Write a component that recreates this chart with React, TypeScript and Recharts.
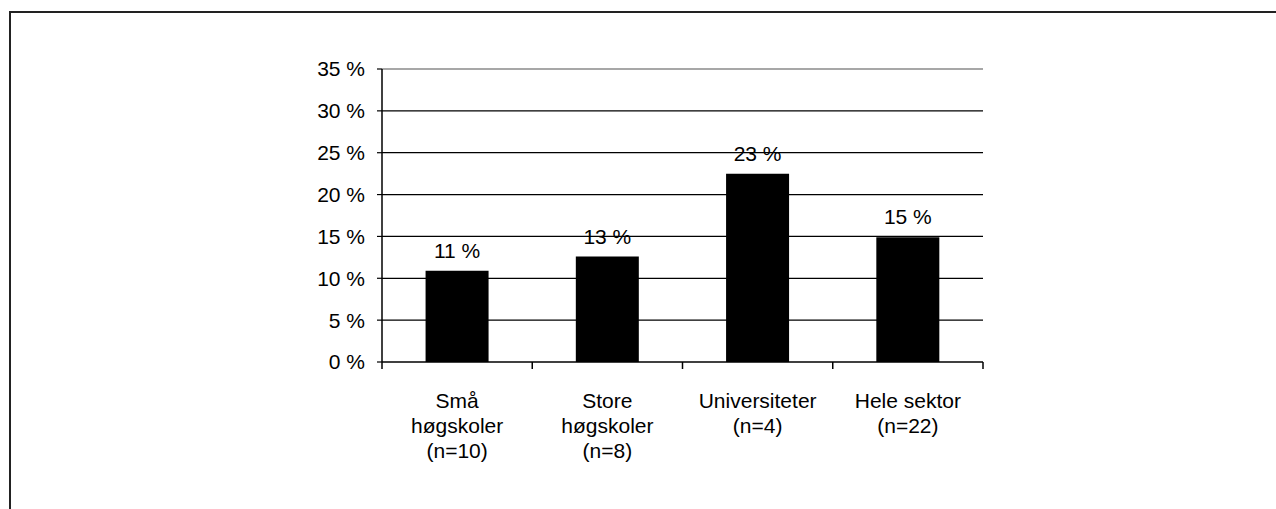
import React from "react";
import { BarChart, Bar, XAxis, YAxis, CartesianGrid, ReferenceLine, LabelList } from "recharts";

const categories = ["Små\nhøgskoler\n(n=10)", "Store\nhøgskoler\n(n=8)", "Universiteter\n(n=4)", "Hele sektor\n(n=22)"];
const shares = [10.9, 12.6, 22.5, 14.9];
const yTicks = [0, 5, 10, 15, 20, 25, 30, 35];

const data = categories.map((name, i) => ({ name, share: shares[i] }));

const FONT = "'Liberation Sans', Arial, Helvetica, sans-serif";
const SIZE = 21;

// category labels under the axis, with tick marks on the band edges
function CategoryTick(props: any) {
  const { x, y, payload, index, visibleTicksCount } = props;
  const half = payload?.offset ?? 0;
  const lines = String(payload.value).split("\n");
  const last = index === visibleTicksCount - 1;
  return (
    <g>
      <line x1={x - half} y1={y} x2={x - half} y2={y + 7} stroke="#000" strokeWidth={1.5} />
      {last && <line x1={x + half} y1={y} x2={x + half} y2={y + 7} stroke="#000" strokeWidth={1.5} />}
      <text x={x} y={y} textAnchor="middle" fontSize={SIZE} fill="#000" fontFamily={FONT}>
        {lines.map((line, i) => (
          <tspan key={i} x={x} y={y + 46 + i * 25}>
            {line}
          </tspan>
        ))}
      </text>
    </g>
  );
}

export default function App() {
  return (
    <div style={{ position: "fixed", left: 0, top: 0, width: 1276, height: 509, overflow: "hidden", background: "#fff" }}>
      <div
        style={{
          position: "absolute",
          left: 9,
          top: 11,
          width: 1400,
          height: 700,
          borderTop: "2px solid #222",
          borderLeft: "2px solid #222",
        }}
      />
      <div style={{ position: "absolute", left: 0, top: 0 }}>
        <BarChart
          width={1276}
          height={509}
          data={data}
          margin={{ top: 69, right: 293, bottom: 47, left: 302 }}
          barCategoryGap="29%"
        >
          <CartesianGrid vertical={false} horizontalValues={yTicks.slice(1, -1)} stroke="#000" strokeWidth={1.2} yAxisId="pct" />
          <XAxis
            dataKey="name"
            height={100}
            axisLine={{ stroke: "#000", strokeWidth: 1.5 }}
            tickLine={false}
            tickSize={0}
            tickMargin={0}
            interval={0}
            tick={<CategoryTick />}
          />
          <YAxis
            yAxisId="pct"
            width={80}
            domain={[0, 35]}
            ticks={yTicks}
            tickFormatter={(v: number) => `${v} %`}
            tickSize={5}
            tickMargin={12}
            axisLine={{ stroke: "#000", strokeWidth: 1.5 }}
            tickLine={{ stroke: "#000", strokeWidth: 1.2 }}
            tick={{ fill: "#000", fontSize: SIZE, fontFamily: FONT }}
          />
          <YAxis
            yAxisId="frame"
            orientation="right"
            width={0}
            domain={[0, 35]}
            tick={false}
            tickLine={false}
            axisLine={{ stroke: "#8a8a8a", strokeWidth: 1.5 }}
          />
          <ReferenceLine yAxisId="pct" y={35} stroke="#8a8a8a" strokeWidth={1.5} />
          <Bar yAxisId="pct" dataKey="share" fill="#000" isAnimationActive={false}>
            <LabelList
              dataKey="share"
              position="top"
              offset={13}
              formatter={(v: number) => `${Math.round(v)} %`}
              fill="#000"
              fontSize={SIZE}
              fontFamily={FONT}
            />
          </Bar>
        </BarChart>
      </div>
    </div>
  );
}
